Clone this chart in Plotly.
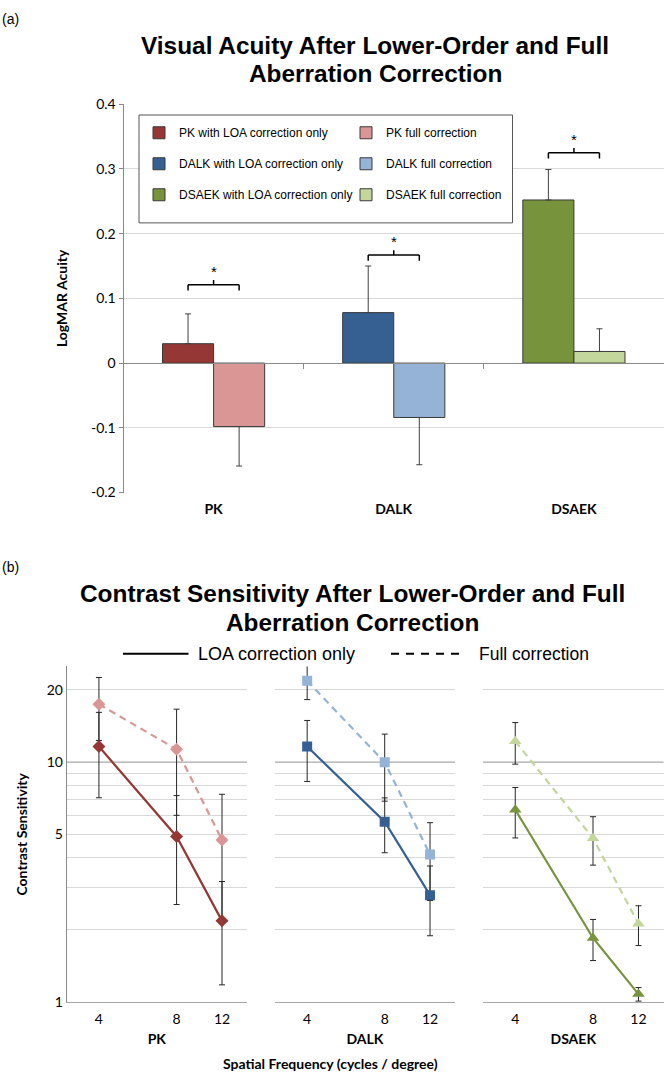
import math
import plotly.graph_objects as go

W, H = 664, 1081

# ---------------- Panel (a) data ----------------
procedures = ["PK", "DALK", "DSAEK"]
acuity_loa = [0.030, 0.078, 0.252]
acuity_loa_err = [0.046, 0.072, 0.047]
acuity_full = [-0.098, -0.084, 0.018]
acuity_full_err = [0.061, 0.073, 0.035]
sig_bracket_level = [0.121, 0.167, 0.325]
acuity_ticks = [-0.2, -0.1, 0, 0.1, 0.2, 0.3, 0.4]
loa_names = ["PK with LOA correction only", "DALK with LOA correction only",
             "DSAEK with LOA correction only"]
full_names = ["PK full correction", "DALK full correction", "DSAEK full correction"]

# ---------------- Panel (b) data ----------------
spatial_freq = [4, 8, 12]
cs_loa = {
    "PK": [11.6, 4.9, 2.18],
    "DALK": [11.6, 5.64, 2.79],
    "DSAEK": [6.33, 1.85, 1.08],
}
cs_loa_err = {
    "PK": [4.5, 2.35, 1.0],
    "DALK": [3.3, 1.45, 0.9],
    "DSAEK": [1.5, 0.36, 0.07],
}
cs_full = {
    "PK": [17.4, 11.3, 4.74],
    "DALK": [21.8, 9.97, 4.12],
    "DSAEK": [12.2, 4.82, 2.12],
}
cs_full_err = {
    "PK": [5.1, 5.3, 2.6],
    "DALK": [3.6, 3.1, 1.47],
    "DSAEK": [2.4, 1.1, 0.4],
}
cs_gridlines = [1, 2, 3, 4, 5, 6, 7, 8, 9, 10, 20, 25]
cs_labelled = [1, 5, 10, 20]
cs_major = 10
cs_range = [1, 25]
freq_range = [3, 15]

# ---------------- styles ----------------
dark = {"PK": "#953735", "DALK": "#376092", "DSAEK": "#77933C"}
light = {"PK": "#D99694", "DALK": "#95B3D7", "DSAEK": "#C3D69B"}
symbols = {"PK": "diamond", "DALK": "square", "DSAEK": "triangle-up"}
msize = {"PK": 10, "DALK": 10, "DSAEK": 11}
GRID = "#d9d9d9"
AXIS = "#898989"
TITLE_FONT = "Liberation Sans"
LABEL_FONT = "Lato"


def xp(px):
    return px / W


def yp(py):
    return 1 - py / H


fig = go.Figure()

# ---------------- Panel (a): bars ----------------
bargap = 0.433
for i, p in enumerate(procedures):
    v, e = acuity_loa[i], acuity_loa_err[i]
    fig.add_trace(go.Bar(
        x=[p], y=[v], name=loa_names[i], offsetgroup="loa",
        legend="legend", legendgroup=f"loa{i}",
        marker=dict(color=dark[p], line=dict(color="#3a3a3a", width=1)),
        error_y=dict(type="data", symmetric=False,
                     array=[e if v >= 0 else 0], arrayminus=[0 if v >= 0 else e],
                     color="#404040", thickness=1, width=3),
        xaxis="x", yaxis="y"))
for i, p in enumerate(procedures):
    v, e = acuity_full[i], acuity_full_err[i]
    fig.add_trace(go.Bar(
        x=[p], y=[v], name=full_names[i], offsetgroup="full",
        legend="legend2", legendgroup=f"full{i}",
        marker=dict(color=light[p], line=dict(color="#3a3a3a", width=1)),
        error_y=dict(type="data", symmetric=False,
                     array=[e if v >= 0 else 0], arrayminus=[0 if v >= 0 else e],
                     color="#404040", thickness=1, width=3),
        xaxis="x", yaxis="y"))

# dummy trace to create the zero-crossing category axis overlay
fig.add_trace(go.Scatter(x=[None], y=[None], xaxis="x5", yaxis="y",
                         showlegend=False, hoverinfo="skip"))

top_xdom = [xp(123.5), 1.0]
top_ydom = [yp(491.3), yp(96.7)]
ya_rng = [min(acuity_ticks), max(acuity_ticks)]
zero_pos = top_ydom[0] + (0 - ya_rng[0]) / (ya_rng[1] - ya_rng[0]) * (top_ydom[1] - top_ydom[0])

# bottom legend (line styles) -- drawn first
fig.add_shape(type="line", xref="paper", yref="paper", x0=xp(123), x1=xp(188.5),
              y0=yp(655), y1=yp(655), line=dict(color="#000", width=2))
fig.add_shape(type="line", xref="paper", yref="paper", x0=xp(391), x1=xp(459.5),
              y0=yp(655), y1=yp(655), line=dict(color="#000", width=2, dash="8px,7px"))

# legend box
fig.add_shape(type="rect", xref="paper", yref="paper",
              x0=xp(139), x1=xp(512.5), y0=yp(217.3), y1=yp(107.7),
              line=dict(color="#555555", width=1), fillcolor="white", layer="above")

# significance brackets
half = (1 - bargap) / 4
d_end = 0.009
for i, lvl in enumerate(sig_bracket_level):
    x0, x1 = i - half, i + half
    segs = [(x0, lvl - d_end, x0, lvl), (x0, lvl, x1, lvl),
            (x1, lvl, x1, lvl - d_end), (i, lvl, i, lvl + d_end * 0.8)]
    for (a, b, c, d) in segs:
        fig.add_shape(type="line", xref="x5", yref="y", x0=a, y0=b, x1=c, y1=d,
                      line=dict(color="#000000", width=1.5))
    fig.add_annotation(x=i, y=lvl + d_end * 0.8, xref="x5", yref="y", text="*",
                       showarrow=False, yanchor="bottom", yshift=-2,
                       font=dict(family=TITLE_FONT, size=15, color="#000"))

# ---------------- Panel (b): lines ----------------
bottom_xdoms = [[xp(66.7), xp(247)], [xp(275), xp(455)], [xp(483), xp(663.5)]]
bottom_ydom = [yp(1009), yp(668)]
for k, p in enumerate(procedures):
    ax_id = k + 2
    xa, ya = f"x{ax_id}", f"y{ax_id}"
    fig.add_trace(go.Scatter(
        x=spatial_freq, y=cs_full[p], mode="lines+markers", showlegend=False,
        line=dict(color=light[p], width=2.2, dash="7px,5px"),
        marker=dict(symbol=symbols[p], size=msize[p], color=light[p]),
        error_y=dict(type="data", array=cs_full_err[p], color="#262626",
                     thickness=1, width=3),
        xaxis=xa, yaxis=ya))
    fig.add_trace(go.Scatter(
        x=spatial_freq, y=cs_loa[p], mode="lines+markers", showlegend=False,
        line=dict(color=dark[p], width=2.2),
        marker=dict(symbol=symbols[p], size=msize[p], color=dark[p]),
        error_y=dict(type="data", array=cs_loa_err[p], color="#262626",
                     thickness=1, width=3),
        xaxis=xa, yaxis=ya))
    # major gridline is darker (between gridlines and traces)
    fig.add_shape(type="line", xref=xa, yref=ya, x0=freq_range[0], x1=freq_range[1],
                  y0=cs_major, y1=cs_major,
                  line=dict(color="#a6a6a6", width=1), layer="between")

fig.add_annotation(x=xp(196), y=yp(655), xref="paper", yref="paper", text="LOA correction only",
                   showarrow=False, xanchor="left", yanchor="middle",
                   font=dict(family=TITLE_FONT, size=18, color="#000"))
fig.add_annotation(x=xp(476.5), y=yp(655), xref="paper", yref="paper", text="Full correction",
                   showarrow=False, xanchor="left", yanchor="middle",
                   font=dict(family=TITLE_FONT, size=17.5, color="#000"))

# ---------------- titles / labels ----------------
title_font = dict(family=TITLE_FONT, size=24.4, color="#000", weight="bold")
fig.add_annotation(x=xp(375), y=yp(37), xref="paper", yref="paper",
                   text="Visual Acuity After Lower-Order and Full", showarrow=False,
                   xanchor="center", yanchor="middle", font=title_font)
fig.add_annotation(x=xp(375), y=yp(66), xref="paper", yref="paper",
                   text="Aberration Correction", showarrow=False,
                   xanchor="center", yanchor="middle", font=title_font)
fig.add_annotation(x=xp(352), y=yp(594), xref="paper", yref="paper",
                   text="Contrast Sensitivity After Lower-Order and Full", showarrow=False,
                   xanchor="center", yanchor="middle", font=title_font)
fig.add_annotation(x=xp(352), y=yp(623), xref="paper", yref="paper",
                   text="Aberration Correction", showarrow=False,
                   xanchor="center", yanchor="middle", font=title_font)
fig.add_annotation(x=xp(0), y=yp(10), xref="paper", yref="paper", text="(a)",
                   showarrow=False, xanchor="left", yanchor="middle",
                   font=dict(family=TITLE_FONT, size=14, color="#000"))
fig.add_annotation(x=xp(0), y=yp(567), xref="paper", yref="paper", text="(b)",
                   showarrow=False, xanchor="left", yanchor="middle",
                   font=dict(family=TITLE_FONT, size=14, color="#000"))
fig.add_annotation(x=xp(330), y=yp(1071), xref="paper", yref="paper",
                   text="Spatial Frequency (cycles / degree)", showarrow=False,
                   xanchor="center", yanchor="middle",
                   font=dict(family=LABEL_FONT, size=14, color="#000", weight="bold"))

tick_font = dict(family=LABEL_FONT, size=14, color="#000")
bold_font = dict(family=LABEL_FONT, size=14, color="#000", weight="bold")

layout = dict(
    width=W, height=H, margin=dict(l=0, r=0, t=0, b=0),
    paper_bgcolor="white", plot_bgcolor="white",
    barmode="group", bargap=bargap, showlegend=True,
    legend=dict(x=xp(139), y=yp(111), xanchor="left", yanchor="top",
                bgcolor="rgba(0,0,0,0)", borderwidth=0, traceorder="grouped",
                tracegroupgap=12, font=dict(family=TITLE_FONT, size=12, color="#000")),
    legend2=dict(x=xp(346), y=yp(111), xanchor="left", yanchor="top",
                 bgcolor="rgba(0,0,0,0)", borderwidth=0, traceorder="grouped",
                 tracegroupgap=12, font=dict(family=TITLE_FONT, size=12, color="#000")),
    xaxis=dict(domain=top_xdom, anchor="y", type="category", showgrid=False,
               showline=False, ticks="", tickfont=bold_font, ticklabelstandoff=6,
               fixedrange=True),
    yaxis=dict(domain=top_ydom, anchor="x", range=ya_rng, tickvals=acuity_ticks,
               ticktext=[f"{v:g}" for v in acuity_ticks], tickfont=tick_font,
               showgrid=True, gridcolor=GRID, zeroline=False, showline=True,
               linecolor=AXIS, ticks="outside", ticklen=4, tickcolor=AXIS,
               title=dict(text="LogMAR Acuity", font=bold_font, standoff=20)),
    xaxis5=dict(overlaying="x", anchor="free", position=zero_pos, range=[-0.5, 2.5],
                showgrid=False, zeroline=False, showline=True, linecolor=AXIS,
                ticks="outside", tickvals=[0.5, 1.5, 2.5], ticklen=5, tickcolor=AXIS,
                showticklabels=False),
)

for k, p in enumerate(procedures):
    ax_id = k + 2
    layout[f"xaxis{ax_id}"] = dict(
        domain=bottom_xdoms[k], anchor=f"y{ax_id}", type="log",
        range=[math.log10(freq_range[0]), math.log10(freq_range[1])],
        tickvals=spatial_freq, ticktext=[str(f) for f in spatial_freq],
        tickfont=tick_font, showgrid=False, zeroline=False, showline=True,
        linecolor="#a6a6a6", ticks="", ticklabelstandoff=4,
        title=dict(text=p, font=bold_font, standoff=8))
    layout[f"yaxis{ax_id}"] = dict(
        domain=bottom_ydom, anchor=f"x{ax_id}", type="log",
        range=[math.log10(cs_range[0]), math.log10(cs_range[1])],
        tickvals=cs_gridlines,
        ticktext=[str(v) if v in cs_labelled else "" for v in cs_gridlines],
        tickfont=tick_font, showticklabels=(k == 0),
        showgrid=True, gridcolor=GRID, zeroline=False,
        showline=(k == 0), linecolor=AXIS, ticks="",
        title=dict(text="Contrast Sensitivity" if k == 0 else "", font=bold_font,
                   standoff=15))

fig.update_layout(**layout)
fig.write_html("out.html", config={"displayModeBar": False},
               post_script="document.body.style.margin='0';")
